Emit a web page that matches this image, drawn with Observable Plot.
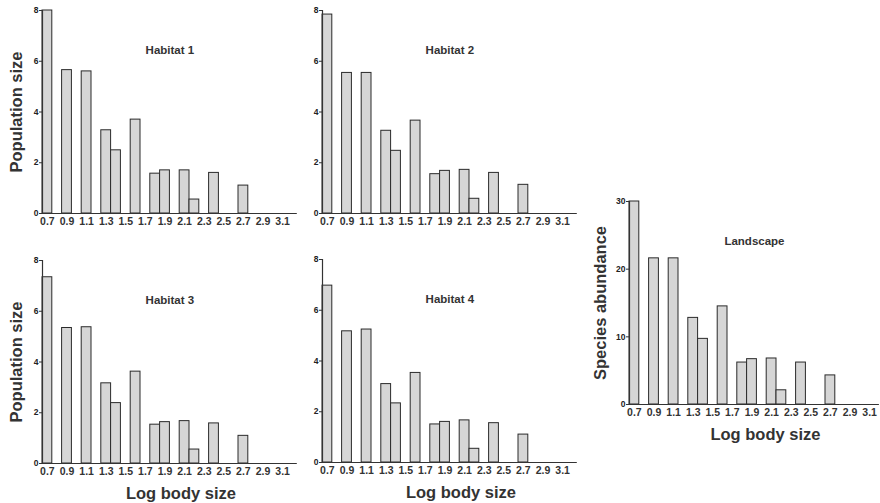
<!DOCTYPE html>
<html>
<head>
<meta charset="utf-8">
<script src="https://cdn.jsdelivr.net/npm/d3@7"></script>
<script src="https://cdn.jsdelivr.net/npm/@observablehq/plot@0.6"></script>
<style>
  html, body { margin: 0; padding: 0; background: #fff; }
  #root { position: relative; width: 880px; height: 503px; overflow: hidden; background: #fff; }
  #root > svg { position: absolute; }
</style>
</head>
<body>
<div id="root"></div>
<script>
// Log body size bin centres (each bar spans 0.1)
const sizes = [0.7, 0.9, 1.1, 1.3, 1.4, 1.6, 1.8, 1.9, 2.1, 2.2, 2.4, 2.7];
const habitat1 = [8.0, 5.65, 5.6, 3.28, 2.49, 3.7, 1.57, 1.7, 1.7, 0.55, 1.6, 1.1];
const habitat2 = [7.84, 5.54, 5.54, 3.26, 2.47, 3.66, 1.55, 1.68, 1.72, 0.58, 1.6, 1.13];
const habitat3 = [7.34, 5.34, 5.37, 3.16, 2.38, 3.62, 1.53, 1.63, 1.67, 0.55, 1.58, 1.09];
const habitat4 = [6.97, 5.17, 5.24, 3.09, 2.33, 3.53, 1.5, 1.6, 1.66, 0.54, 1.55, 1.1];
const landscape = [30, 21.6, 21.6, 12.8, 9.7, 14.5, 6.2, 6.7, 6.8, 2.1, 6.2, 4.3];
const xTicks = [0.7, 0.9, 1.1, 1.3, 1.5, 1.7, 1.9, 2.1, 2.3, 2.5, 2.7, 2.9, 3.1];
const habitatYTicks = [0, 2, 4, 6, 8];
const landscapeYTicks = [0, 10, 20, 30];

const FONT = "'Liberation Sans', Arial, Helvetica, sans-serif";
const root = document.getElementById("root");

function panel({values, title, yMax, yTicks, yLabel, xLabel, left, top, width, height, marginLeft, xMax, yLabelDx}) {
  const data = sizes.map((x, i) => ({x, v: values[i]}));
  const marks = [
    Plot.rectY(data, {x1: d => d.x - 0.05, x2: d => d.x + 0.05, y1: 0, y2: "v",
      fill: "#d6d6d6", stroke: "#2a2a2a", strokeWidth: 1}),
    Plot.ruleY([0], {stroke: "#333", strokeWidth: 1.2}),
    Plot.ruleX([0.65], {y1: 0, y2: yMax, stroke: "#333", strokeWidth: 1.2}),
    Plot.axisX({ticks: xTicks, tickFormat: d3.format(".1f"), tickSize: 0, tickPadding: 4,
      fontSize: 10.5, fontWeight: "bold", fill: "#333", label: null}),
    Plot.axisY({ticks: yTicks, tickSize: 3, tickPadding: 1, fontSize: 8.5, fontWeight: "bold",
      fill: "#222", stroke: "#333", label: null}),
    Plot.text([title], {frameAnchor: "top", dy: 35, fontSize: 11.5, fontWeight: "bold", fill: "#333"})
  ];
  if (yLabel) marks.push(Plot.text([yLabel], {frameAnchor: "left", textAnchor: "middle", rotate: -90, dx: yLabelDx,
    fontSize: 16.5, fontWeight: "bold", fill: "#333"}));
  if (xLabel) marks.push(Plot.text([xLabel], {frameAnchor: "bottom", lineAnchor: "middle", dy: 30, dx: 11,
    fontSize: 16.5, fontWeight: "bold", fill: "#333"}));
  const svg = Plot.plot({
    width, height,
    marginLeft, marginRight: width - marginLeft - (xMax - 0.65) * 98,
    marginTop: 10, marginBottom: height - 213,
    style: {fontFamily: FONT, background: "transparent", overflow: "visible"},
    x: {domain: [0.65, xMax], axis: null},
    y: {domain: [0, yMax], axis: null},
    marks
  });
  svg.style.left = left + "px";
  svg.style.top = top + "px";
  root.appendChild(svg);
}

panel({values: habitat1, title: "Habitat 1", yMax: 8, yTicks: habitatYTicks, yLabel: "Population size", yLabelDx: -26,
  left: 0, top: 0, width: 300, height: 235, marginLeft: 42, xMax: 3.25});
panel({values: habitat2, title: "Habitat 2", yMax: 8, yTicks: habitatYTicks,
  left: 280, top: 0, width: 300, height: 235, marginLeft: 42, xMax: 3.25});
panel({values: habitat3, title: "Habitat 3", yMax: 8, yTicks: habitatYTicks, yLabel: "Population size", yLabelDx: -26, xLabel: "Log body size",
  left: 0, top: 250, width: 300, height: 253, marginLeft: 42, xMax: 3.25});
panel({values: habitat4, title: "Habitat 4", yMax: 8, yTicks: habitatYTicks, xLabel: "Log body size",
  left: 280, top: 249, width: 300, height: 253, marginLeft: 42, xMax: 3.25});
panel({values: landscape, title: "Landscape", yMax: 30, yTicks: landscapeYTicks, yLabel: "Species abundance", yLabelDx: -29, xLabel: "Log body size",
  left: 580, top: 191, width: 300, height: 253, marginLeft: 49, xMax: 3.2});
</script>
</body>
</html>
